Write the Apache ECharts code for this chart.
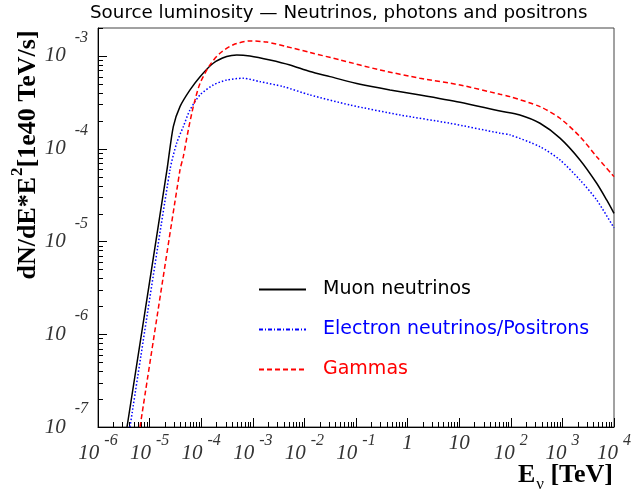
<!DOCTYPE html>
<html>
<head>
<meta charset="utf-8">
<title>Source luminosity</title>
<script src="https://cdn.jsdelivr.net/npm/echarts@6/dist/echarts.min.js"></script>
<style>
  html, body { margin: 0; padding: 0; background: #fff; }
  #chart { width: 638px; height: 493px; }
</style>
</head>
<body>
<div id="chart"></div>
<script>
// values: energy [TeV] and dN/dE*E^2 [1e40 TeV/s]
const muonE = [3.65e-6, 2.17e-5, 2.88e-5, 3.88e-5, 6.07e-5, 9.5e-5, 1.71e-4, 3.12e-4, 4.88e-4, 8.8e-4,
  2.15e-3, 5.26e-3, 1.28e-2, 3.13e-2, 0.12, 0.456, 1.74, 10.4, 61.8, 150, 368, 898, 2190, 4620, 7210, 1e4];
const muonF = [1e-7, 5.9e-5, 1.73e-4, 2.84e-4, 4.3e-4, 5.98e-4, 8.34e-4, 9.84e-4, 1.026e-3, 1.0e-3,
  9.06e-4, 8.0e-4, 6.78e-4, 5.98e-4, 4.95e-4, 4.3e-4, 3.8e-4, 3.17e-4, 2.55e-4, 2.31e-4, 1.88e-4, 1.30e-4, 7.57e-5, 4.24e-5, 2.8e-5, 2.01e-5];

const elecE = [4.17e-6, 2.48e-5, 3.35e-5, 4.5e-5, 6.07e-5, 9.5e-5, 1.71e-4, 3.12e-4, 6.55e-4, 1.38e-3,
  3.9e-3, 1.28e-2, 7.66e-2, 0.713, 6.63, 61.8, 96.4, 368, 898, 2190, 4620, 1e4];
const elecF = [1e-7, 5.9e-5, 1.15e-4, 1.73e-4, 2.62e-4, 3.8e-4, 4.86e-4, 5.5e-4, 5.74e-4, 5.28e-4,
  4.67e-4, 3.8e-4, 2.96e-4, 2.31e-4, 1.88e-4, 1.47e-4, 1.41e-4, 1.05e-4, 7.57e-5, 4.6e-5, 2.8e-5, 1.4e-5];

const gammaE = [6.52e-6, 3.88e-5, 4.5e-5, 5.62e-5, 7.03e-5, 9.5e-5, 1.48e-4, 2.31e-4, 4.19e-4, 8.8e-4,
  1.86e-3, 4.54e-3, 1.28e-2, 4.9e-2, 0.292, 1.74, 10.4, 61.8, 96.4, 368, 898, 2190, 4620, 1e4];
const gammaF = [1e-7, 5.9e-5, 8.2e-5, 1.59e-4, 2.84e-4, 5.08e-4, 8.0e-4, 1.07e-3, 1.32e-3, 1.45e-3,
  1.41e-3, 1.26e-3, 1.09e-3, 9.06e-4, 7.06e-4, 5.74e-4, 4.86e-4, 3.86e-4, 3.64e-4, 2.84e-4, 2.13e-4, 1.35e-4, 8.2e-5, 5.0e-5];

const seriesNames = ['Muon neutrinos', 'Electron neutrinos/Positrons', 'Gammas'];

// axis ticks
const xMajor = [1e-6, 1e-5, 1e-4, 1e-3, 1e-2, 1e-1, 1, 10, 1e2, 1e3, 1e4];
const yMajor = [1e-7, 1e-6, 1e-5, 1e-4, 1e-3];
const xMin = 1e-6, xMax = 1e4;
const yMin = 1e-7, yMax = 2e-3;

function minorTicks(majors, lo, hi) {
  const out = [];
  majors.forEach(function (m) {
    for (let k = 2; k <= 9; k++) {
      const v = m * k;
      if (v > lo && v <= hi * 1.0001) out.push(v);
    }
  });
  return out;
}
const xMinor = minorTicks(xMajor, xMin, xMax);
const yMinor = minorTicks(yMajor, yMin, yMax);

const serif = 'Liberation Serif';
const sans = 'DejaVu Sans';

function powLabel(v) {
  const e = Math.round(Math.log10(v));
  if (e === 0) return '{b|1}';
  if (e === 1) return '{b|10}';
  return '{b|10}{s|' + e + '}';
}

const chart = echarts.init(document.getElementById('chart'));

const labelRichX = {
  b: { fontFamily: serif, fontStyle: 'italic', fontSize: 21, color: '#333', verticalAlign: 'middle' },
  s: { fontFamily: serif, fontStyle: 'italic', fontSize: 16, color: '#333', verticalAlign: 'middle', padding: [0, 0, 25, 5] }
};
const labelRichY = {
  b: { fontFamily: serif, fontStyle: 'italic', fontSize: 21, color: '#333', verticalAlign: 'middle' },
  s: { fontFamily: serif, fontStyle: 'italic', fontSize: 16, color: '#333', verticalAlign: 'middle', padding: [0, 0, 36, 9] }
};

// log axis carries the data and the labels
function logAxis(extra) {
  return Object.assign({
    type: 'log',
    logBase: 10,
    splitLine: { show: false },
    axisTick: { show: false },
    minorTick: { show: false }
  }, extra);
}
// tick-only x axis counted in decades above the minimum
function xTickAxis(ticks, len) {
  return {
    type: 'value',
    position: 'bottom',
    min: 0, max: Math.log10(xMax / xMin),
    axisLine: { show: false, onZero: false },
    splitLine: { show: false },
    axisLabel: { show: false },
    axisTick: { show: true, inside: true, length: len, lineStyle: { color: '#000', width: 1 },
      customValues: ticks.map(function (v) { return Math.log10(v / xMin); }) }
  };
}
// y ticks drawn on the left frame edge through the log scale
function yTickSeries(ticks, len) {
  return {
    type: 'custom',
    coordinateSystem: 'cartesian2d',
    silent: true,
    clip: false,
    z: 10,
    xAxisIndex: 0, yAxisIndex: 0,
    encode: { x: 0, y: 1 },
    data: ticks.map(function (v) { return [xMin, v]; }),
    renderItem: function (params, api) {
      const p = api.coord([api.value(0), api.value(1)]);
      const x0 = Math.round(p[0]);
      const y = Math.round(p[1]) + 0.5;
      return {
        type: 'line',
        z2: 10,
        shape: { x1: x0, y1: y, x2: x0 + len, y2: y },
        style: { stroke: '#000000', lineWidth: 1, fill: null }
      };
    }
  };
}

function lineSeries(name, es, fs, color, dash) {
  return {
    name: name, type: 'line', showSymbol: false, symbol: 'none',
    smooth: 0.25, clip: true,
    lineStyle: { color: color, width: 1.5, type: dash },
    itemStyle: { color: color },
    data: es.map(function (e, i) { return [e, fs[i]]; })
  };
}

chart.setOption({
  animation: false,
  backgroundColor: '#fff',
  title: {
    text: 'Source luminosity \u2014 Neutrinos, photons and positrons',
    left: 85,
    top: -1,
    textStyle: { fontFamily: sans, fontSize: 18.3, fontWeight: 'normal', color: '#000' }
  },
  grid: {
    left: 98, top: 28, right: 24, bottom: 66,
    show: true, borderColor: '#444', borderWidth: 1, backgroundColor: 'transparent'
  },
  legend: {
    orient: 'vertical',
    left: 258,
    top: 280,
    padding: 0,
    itemWidth: 47,
    itemHeight: 14,
    itemGap: 21,
    itemStyle: { opacity: 0 },
    data: [
      { name: seriesNames[0], textStyle: { color: '#000' } },
      { name: seriesNames[1], textStyle: { color: '#0000ff' }, lineStyle: { type: [4, 2, 1, 2] } },
      { name: seriesNames[2], textStyle: { color: '#ff0000' } }
    ],
    textStyle: { fontFamily: sans, fontSize: 19, padding: [0, 0, 0, 12] }
  },
  xAxis: [
    logAxis({
      min: xMin, max: xMax,
      axisLine: { onZero: false, lineStyle: { color: '#000', width: 1 } },
      axisLabel: { margin: 6, customValues: xMajor, formatter: powLabel, rich: labelRichX }
    }),
    xTickAxis(xMajor, 9),
    xTickAxis(xMinor, 5)
  ],
  yAxis: [
    logAxis({
      min: yMin, max: yMax,
      axisLine: { show: true, onZero: false, lineStyle: { color: '#000', width: 1 } },
      axisLabel: { margin: 10, customValues: yMajor, formatter: powLabel, rich: labelRichY }
    })
  ],
  graphic: [
    {
      type: 'text',
      x: 28, y: 155,
      rotation: Math.PI / 2,
      style: {
        text: 'dN/dE*E{s|2}[1e40 TeV/s]',
        align: 'center', verticalAlign: 'middle',
        font: 'bold 26px "Liberation Serif"',
        fill: '#000',
        rich: {
          s: { font: 'bold 17px "Liberation Serif"', fill: '#000', padding: [0, 0, 20, 1] }
        }
      }
    },
    {
      type: 'text',
      x: 613, y: 475,
      style: {
        text: 'E{v|\u03bd} [TeV]',
        align: 'right', verticalAlign: 'middle',
        font: 'bold 26px "Liberation Serif"',
        fill: '#000',
        rich: {
          v: { font: '17px "Liberation Serif"', fill: '#000', padding: [20, 0, 0, 1] }
        }
      }
    }
  ],
  series: [
    lineSeries(seriesNames[0], muonE, muonF, '#000000', 'solid'),
    lineSeries(seriesNames[1], elecE, elecF, '#0000ff', [1.5, 2]),
    lineSeries(seriesNames[2], gammaE, gammaF, '#ff0000', [5, 3]),
    yTickSeries(yMajor, 9),
    yTickSeries(yMinor, 5)
  ]
});
</script>
</body>
</html>
